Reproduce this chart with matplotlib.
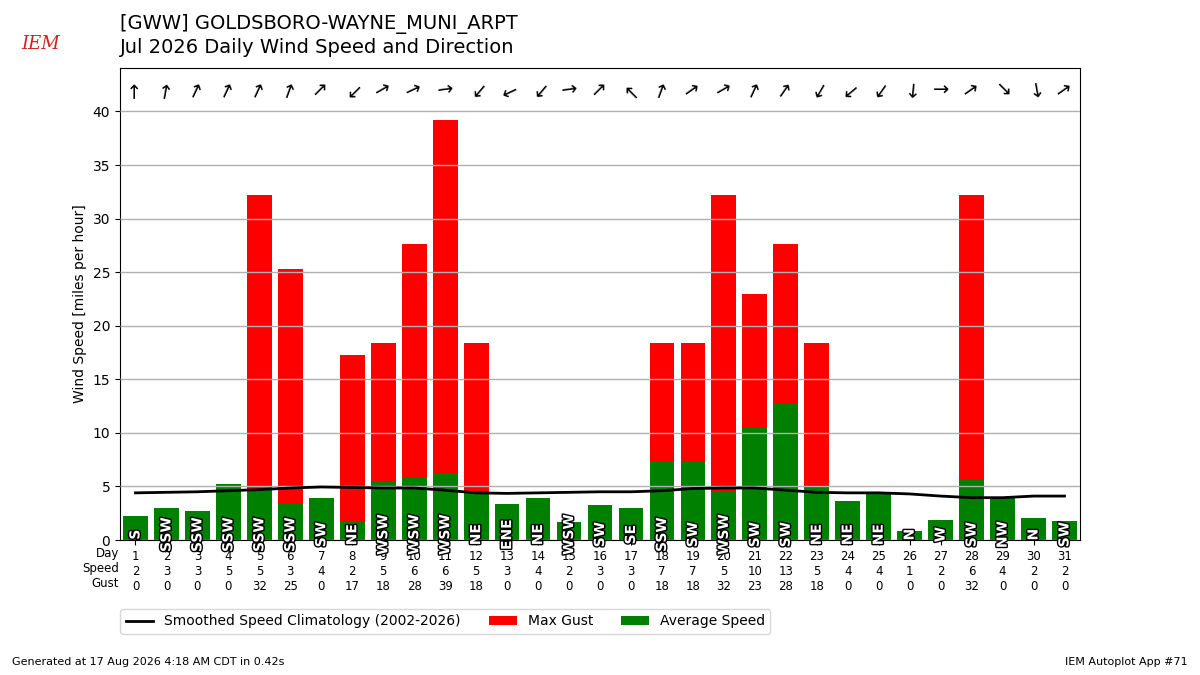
import matplotlib
matplotlib.use("Agg")
import matplotlib.pyplot as plt
import matplotlib.patheffects as PathEffects

# daily data, July 2026, mph
days = list(range(1, 32))
avg_speed = [2.24, 3.0, 2.7, 5.2, 4.8, 3.4, 3.9, 1.8, 5.4, 5.9,
             6.3, 4.6, 3.4, 3.9, 1.7, 3.3, 3.0, 7.3, 7.3, 4.55,
             10.45, 12.7, 5.05, 3.6, 4.3, 0.8, 1.9, 5.7, 4.0, 2.1, 1.8]
max_gust = [0, 0, 0, 0, 32.2, 25.3, 0, 17.3, 18.4, 27.6,
            39.2, 18.4, 0, 0, 0, 0, 0, 18.4, 18.4, 32.2,
            23.0, 27.6, 18.4, 0, 0, 0, 0, 32.2, 0, 0, 0]
direction = [180, 190, 205, 205, 205, 200, 225, 45, 240, 245,
             262, 40, 65, 40, 262, 225, 135, 200, 235, 240,
             205, 215, 30, 50, 35, 5, 270, 235, 315, 350, 235]
dir_text = ["S", "SSW", "SSW", "SSW", "SSW", "SSW", "SW", "NE", "WSW", "WSW",
            "WSW", "NE", "ENE", "NE", "WSW", "SW", "SE", "SSW", "SW", "WSW",
            "SW", "SW", "NE", "NE", "NE", "N", "W", "SW", "NW", "N", "SW"]
climo = [4.4, 4.45, 4.5, 4.6, 4.7, 4.85, 4.95, 4.9, 4.85, 4.85,
         4.65, 4.4, 4.35, 4.4, 4.45, 4.5, 4.5, 4.6, 4.8, 4.85,
         4.85, 4.65, 4.45, 4.4, 4.4, 4.3, 4.1, 3.95, 3.95, 4.1, 4.1]

fig = plt.figure(figsize=(12, 6.75), dpi=100)
ax = fig.add_axes([0.1, 0.2, 0.8, 0.7])

ax.bar(days, max_gust, width=0.8, color="r", label="Max Gust", zorder=1)
ax.bar(days, avg_speed, width=0.8, color="green", label="Average Speed", zorder=1.5)
ax.plot(days, climo, color="k", lw=2, zorder=3,
        label="Smoothed Speed Climatology (2002-2026)")

ymax = max(max_gust) * 1.125
ax.set_ylim(0, ymax)
ax.set_xlim(0.5, 31.5)
ax.set_yticks(range(0, 41, 5))
ax.grid(axis="y", color="#b0b0b0", lw=1)
ax.set_axisbelow(False)
ax.set_ylabel("Wind Speed [miles per hour]")

labels = []
for d, s, g in zip(days, avg_speed, max_gust):
    labels.append("%d\n%d\n%d" % (d, round(s), round(g)))
ax.set_xticks(days)
ax.set_xticklabels(labels, fontsize=8.5)
ax.text(-0.001, -0.015, "Day\nSpeed\nGust", transform=ax.transAxes,
        ha="right", va="top", fontsize=8.5)

for d, txt, deg in zip(days, dir_text, direction):
    t = ax.text(d, 0.5, txt, rotation=90, ha="center", va="center",
                color="white", fontsize=10, fontweight="bold", zorder=5)
    t.set_path_effects([PathEffects.withStroke(linewidth=2, foreground="k")])
    ang = 90 - (deg + 180)
    ax.text(d, ymax - 2.1, "\u2192", rotation=ang, rotation_mode="anchor",
            ha="center", va="center", fontsize=14, zorder=5)

handles, lbls = ax.get_legend_handles_labels()
fig.legend(handles, lbls, loc="upper left", bbox_to_anchor=(0.1, 0.098),
           borderaxespad=0, ncol=3, fontsize=10)

fig.text(0.1, 0.965, "[GWW] GOLDSBORO-WAYNE_MUNI_ARPT", fontsize=14, va="center")
fig.text(0.1, 0.929, "Jul 2026 Daily Wind Speed and Direction", fontsize=14, va="center")
fig.text(0.018, 0.935, "IEM", color="#d42020", fontsize=13, family="serif",
         style="italic", va="center")
fig.text(0.01, 0.015, "Generated at 17 Aug 2026 4:18 AM CDT in 0.42s", fontsize=8)
fig.text(0.99, 0.015, "IEM Autoplot App #71", fontsize=8, ha="right")

fig.savefig("out.png")
